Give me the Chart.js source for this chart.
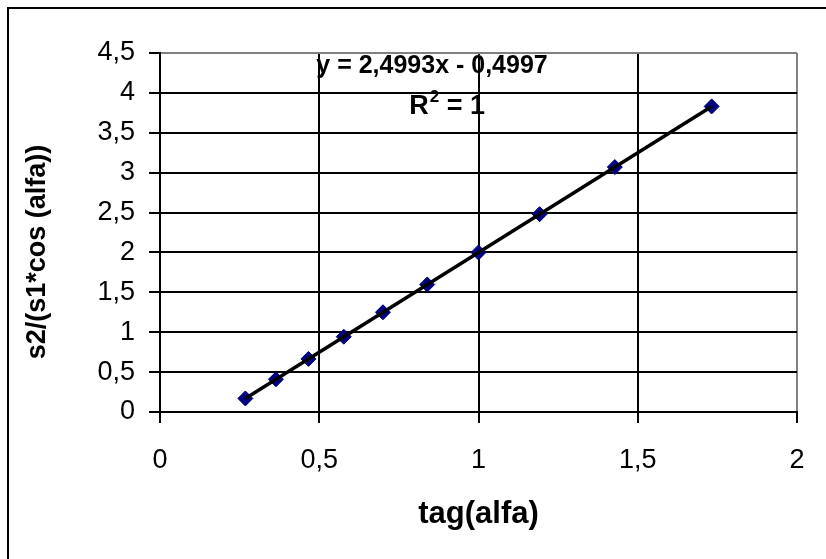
<!DOCTYPE HTML>
<html>
  <head>
    <script src="https://cdn.jsdelivr.net/npm/chart.js"></script>
    <style>
      body { margin: 0; background: #fff; }
    </style>
  </head>
  <body>
    <div style="position: relative; width: 826px; height: 559px;">
      <canvas id="fit-chart"></canvas>
    </div>

    <script>
      // measured values: tag(alfa) and s2/(s1*cos(alfa))
      const tagAlfa = [0.268, 0.364, 0.466, 0.577, 0.700, 0.839, 1.000, 1.192, 1.428, 1.732];
      const ratio = [0.17, 0.41, 0.665, 0.944, 1.25, 1.598, 2.0, 2.48, 3.07, 3.83];
      const xTickLabels = ['0', '0,5', '1', '1,5', '2'];
      const yTickLabels = ['0', '0,5', '1', '1,5', '2', '2,5', '3', '3,5', '4', '4,5'];
      const yTitle = 's2/(s1*cos (alfa))';

      // linear trendline y = a*x + b
      const slope = 2.4993;
      const intercept = -0.4997;
      const rSquared = 1;

      const points = tagAlfa.map(function(x, i) { return {x: x, y: ratio[i]}; });
      const x0 = tagAlfa[0];
      const x1 = tagAlfa[tagAlfa.length - 1];
      const trend = [
        {x: x0, y: slope * x0 + intercept},
        {x: x1, y: slope * x1 + intercept}
      ];

      const fmt = function(v) { return v.toFixed(4).replace('.', ','); };

      const FONT = '"Liberation Sans", Arial, sans-serif';

      const frame = {
        id: 'frame',
        beforeDraw: function(chart) {
          const ctx = chart.ctx;
          ctx.save();
          ctx.fillStyle = '#fff';
          ctx.fillRect(0, 0, chart.width, chart.height);
          ctx.strokeStyle = '#000';
          ctx.lineWidth = 2;
          ctx.strokeRect(8, 8, chart.width + 20, chart.height + 20);
          ctx.restore();
        },
        afterDraw: function(chart) {
          // vertical axis title, a bit below the plot centre
          const ctx = chart.ctx;
          ctx.save();
          ctx.translate(38, 252);
          ctx.rotate(-Math.PI / 2);
          ctx.fillStyle = '#000';
          ctx.font = 'bold 27px ' + FONT;
          ctx.textAlign = 'center';
          ctx.textBaseline = 'middle';
          ctx.fillText(yTitle, 0, 0);
          ctx.restore();
        }
      };

      const equation = {
        id: 'equation',
        afterDatasetsDraw: function(chart) {
          const ctx = chart.ctx;
          const xs = chart.scales.x;
          const ys = chart.scales.y;
          ctx.save();
          ctx.fillStyle = '#000';
          ctx.textBaseline = 'alphabetic';
          ctx.textAlign = 'center';
          ctx.font = 'bold 25px ' + FONT;
          const sign = intercept < 0 ? ' - ' : ' + ';
          const eq = 'y = ' + fmt(slope) + 'x' + sign + fmt(Math.abs(intercept));
          ctx.fillText(eq, xs.getPixelForValue(0.854), ys.getPixelForValue(4.245));

          // R² line, superscript drawn smaller and raised
          const big = 'bold 27px ' + FONT;
          const small = 'bold 17px ' + FONT;
          ctx.font = big;
          const wR = ctx.measureText('R').width;
          const tail = ' = ' + rSquared;
          const wTail = ctx.measureText(tail).width;
          ctx.font = small;
          const wSup = ctx.measureText('2').width;
          const total = wR + wSup + wTail;
          let x = xs.getPixelForValue(0.9) - total / 2;
          const base = ys.getPixelForValue(3.73);
          ctx.textAlign = 'left';
          ctx.font = big;
          ctx.fillText('R', x, base);
          x += wR + 1;
          ctx.font = small;
          ctx.fillText('2', x, base - 12);
          x += wSup;
          ctx.font = big;
          ctx.fillText(tail, x, base);
          ctx.restore();
        }
      };

      const ctx = document.getElementById('fit-chart');
      const chart = new Chart(ctx, {
        type: 'scatter',
        data: {
          datasets: [{
            label: 'trend',
            type: 'line',
            data: trend,
            borderColor: '#000',
            borderWidth: 3.5,
            pointRadius: 0,
            fill: false,
            order: 0
          }, {
            label: 'data',
            data: points,
            pointStyle: 'rectRot',
            pointRadius: 7.5,
            backgroundColor: '#000080',
            borderColor: '#000080',
            borderWidth: 1,
            order: 1
          }]
        },
        options: {
          responsive: true,
          maintainAspectRatio: false,
          animation: false,
          layout: { padding: { left: 0, top: 53, right: 29, bottom: 0 } },
          plugins: {
            legend: { display: false },
            tooltip: { enabled: false }
          },
          scales: {
            x: {
              type: 'linear',
              min: 0,
              max: 2,
              afterFit: function(scale) { scale.height = 147; },
              ticks: {
                stepSize: 0.5,
                color: '#000',
                padding: 21,
                maxRotation: 0,
                font: { family: FONT, size: 27 },
                callback: function(v, i) { return xTickLabels[i]; }
              },
              grid: {
                color: function(c) { return c.tick && c.tick.value === 2 ? '#808080' : '#000'; },
                lineWidth: 2,
                tickLength: 11,
                tickColor: '#000',
                tickWidth: 2
              },
              border: { color: '#000', width: 2 },
              title: {
                display: true,
                text: 'tag(alfa)',
                color: '#000',
                font: { family: FONT, size: 31, weight: 'bold' },
                padding: { top: 0, bottom: 26 }
              }
            },
            y: {
              min: 0,
              max: 4.5,
              afterFit: function(scale) { scale.width = 160; },
              ticks: {
                stepSize: 0.5,
                color: '#000',
                padding: 14,
                font: { family: FONT, size: 27 },
                callback: function(v, i) { return yTickLabels[i]; }
              },
              grid: {
                color: function(c) { return c.tick && c.tick.value === 4.5 ? '#808080' : '#000'; },
                lineWidth: 2,
                tickLength: 11,
                tickColor: '#000',
                tickWidth: 2
              },
              border: { color: '#000', width: 2 }
            }
          }
        },
        plugins: [frame, equation]
      });
    </script>
  </body>
</html>
